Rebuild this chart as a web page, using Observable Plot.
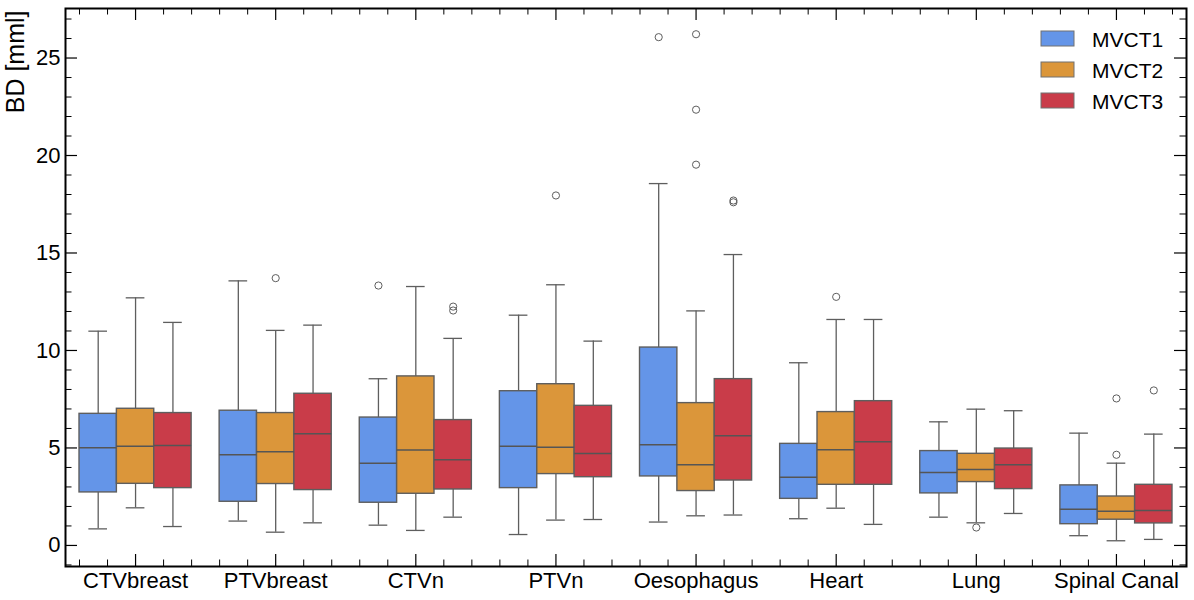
<!DOCTYPE html>
<html><head><meta charset="utf-8">
<script src="https://cdn.jsdelivr.net/npm/d3@7"></script>
<script src="https://cdn.jsdelivr.net/npm/@observablehq/plot@0.6"></script>
<style>
body{margin:0;background:#fff;font-family:"Liberation Sans",Arial,Helvetica,sans-serif}
#chart svg{display:block}
</style>
</head><body><div id="chart"></div>
<script>
const categories = ["CTVbreast","PTVbreast","CTVn","PTVn","Oesophagus","Heart","Lung","Spinal Canal"];
const series = ["MVCT1","MVCT2","MVCT3"];
const colors = ["#6495E8","#DB963A","#C93C49"];

// per series, one value per category
const whiskerLow = {
  MVCT1: [0.85,1.25,1.04,0.56,1.20,1.37,1.45,0.50],
  MVCT2: [1.93,0.68,0.77,1.30,1.52,1.91,1.16,0.24],
  MVCT3: [0.97,1.16,1.45,1.33,1.56,1.08,1.64,0.31]
};
const q1 = {
  MVCT1: [2.72,2.24,2.19,2.94,3.54,2.39,2.67,1.09],
  MVCT2: [3.16,3.15,2.65,3.66,2.79,3.11,3.25,1.32],
  MVCT3: [2.94,2.84,2.87,3.50,3.33,3.11,2.89,1.13]
};
const median = {
  MVCT1: [5.01,4.65,4.22,5.09,5.16,3.50,3.74,1.86],
  MVCT2: [5.09,4.80,4.89,5.03,4.14,4.91,3.90,1.76],
  MVCT3: [5.13,5.73,4.39,4.72,5.62,5.32,4.14,1.79]
};
const q3 = {
  MVCT1: [6.75,6.91,6.56,7.91,10.15,5.21,4.84,3.08],
  MVCT2: [7.01,6.79,8.67,8.27,7.30,6.84,4.70,2.51],
  MVCT3: [6.79,7.78,6.43,7.16,8.53,7.40,4.97,3.11]
};
const whiskerHigh = {
  MVCT1: [10.99,13.57,8.55,11.81,18.56,9.37,6.34,5.76],
  MVCT2: [12.70,11.03,13.28,13.37,12.03,11.59,6.99,4.22],
  MVCT3: [11.44,11.30,10.62,10.48,14.92,11.59,6.91,5.71]
};
const outliers = {
  MVCT1: [[],[],[13.33],[],[26.07],[],[],[]],
  MVCT2: [[],[13.71],[],[17.95],[26.22,22.35,19.53],[12.75],[0.92],[4.65,7.54]],
  MVCT3: [[],[],[12.05,12.25],[],[17.69,17.60],[],[],[7.95]]
};
const yTicks = [0,5,10,15,20,25];
const yLabel = "BD [mml]";

// build table
const boxW = 0.8 / series.length;
const boxes = [];
const outPts = [];
series.forEach((s, si) => {
  categories.forEach((c, ci) => {
    const cx = ci + (si - (series.length - 1) / 2) * boxW;
    boxes.push({s, c, cx, x1: cx - boxW/2, x2: cx + boxW/2, cap1: cx - boxW/4, cap2: cx + boxW/4,
      lo: whiskerLow[s][ci], q1: q1[s][ci], med: median[s][ci], q3: q3[s][ci], hi: whiskerHigh[s][ci]});
    outliers[s][ci].forEach(v => outPts.push({s, c, cx, v}));
  });
});

const W = 1194, H = 600;
const mL = 65, mR = 8, mT = 8, mB = 34;
const innerW = W - mL - mR, innerH = H - mT - mB;
const yMinor = d3.range(-1, 28, 1);
const xMajor = d3.range(0, categories.length);
const xMinor = d3.range(-2, categories.length * 5 - 2).map(i => i / 5);
const majorLen = 12, minorLen = 6.5;
const edge = "#5e5e5e";
const fontFam = '"Liberation Sans", Arial, Helvetica, sans-serif';

const plot = Plot.plot({
  width: W, height: H,
  marginLeft: mL, marginRight: mR, marginTop: mT, marginBottom: mB,
  style: {fontFamily: fontFam, fontSize: "22px", color: "#000", background: "#fff"},
  x: {type: "linear", domain: [-0.5, categories.length - 0.5]},
  y: {domain: [-1.08, 27.54]},
  color: {domain: series, range: colors},
  marks: [
    // whiskers
    Plot.ruleX(boxes, {x: "cx", y1: "hi", y2: "q3", stroke: edge, strokeWidth: 1.3}),
    Plot.ruleX(boxes, {x: "cx", y1: "q1", y2: "lo", stroke: edge, strokeWidth: 1.3}),
    Plot.ruleY(boxes, {y: "hi", x1: "cap1", x2: "cap2", stroke: edge, strokeWidth: 1.3}),
    Plot.ruleY(boxes, {y: "lo", x1: "cap1", x2: "cap2", stroke: edge, strokeWidth: 1.3}),
    // boxes
    Plot.rect(boxes, {x1: "x1", x2: "x2", y1: "q1", y2: "q3", fill: "s", stroke: edge, strokeWidth: 1.4}),
    Plot.ruleY(boxes, {y: "med", x1: "x1", x2: "x2", stroke: "#555", strokeWidth: 1.5}),
    // outliers
    Plot.dot(outPts, {x: "cx", y: "v", r: 3.6, stroke: edge, strokeWidth: 1, fill: "none"}),
    // inward ticks
    Plot.tickY(yTicks, {y: d => d, insetRight: innerW - majorLen, stroke: "#000", strokeWidth: 1.2}),
    Plot.tickY(yTicks, {y: d => d, insetLeft: innerW - majorLen, stroke: "#000", strokeWidth: 1.2}),
    Plot.tickY(yMinor.filter(d => d % 5 !== 0), {y: d => d, insetRight: innerW - minorLen, stroke: "#000", strokeWidth: 1}),
    Plot.tickY(yMinor.filter(d => d % 5 !== 0), {y: d => d, insetLeft: innerW - minorLen, stroke: "#000", strokeWidth: 1}),
    Plot.tickX(xMajor, {x: d => d, insetTop: innerH - majorLen, stroke: "#000", strokeWidth: 1.2}),
    Plot.tickX(xMajor, {x: d => d, insetBottom: innerH - majorLen, stroke: "#000", strokeWidth: 1.2}),
    Plot.tickX(xMinor.filter(d => Math.abs(d - Math.round(d)) > 1e-6), {x: d => d, insetTop: innerH - minorLen, stroke: "#000", strokeWidth: 1}),
    Plot.tickX(xMinor.filter(d => Math.abs(d - Math.round(d)) > 1e-6), {x: d => d, insetBottom: innerH - minorLen, stroke: "#000", strokeWidth: 1}),
    // axes labels
    Plot.axisY({ticks: yTicks, tickSize: 0, tickPadding: 5, label: null, fontSize: 22}),
    Plot.axisX({ticks: xMajor, tickFormat: i => categories[i], tickSize: 0, tickPadding: 6, label: null, fontSize: 22}),
    Plot.text([yLabel], {text: d => d, frameAnchor: "top-left", rotate: -90, textAnchor: "end", lineAnchor: "bottom", dx: -42, dy: 2, fontSize: 25, fill: "#000"}),
    Plot.frame({stroke: "#000", strokeWidth: 2})
  ]
});
document.getElementById("chart").appendChild(plot);

// legend inside the plot (upper right)
const svg = d3.select(plot);
const lg = svg.append("g").attr("font-size", 21).attr("font-family", fontFam).attr("text-anchor", "start");
series.forEach((s, i) => {
  const cy = 38.5 + i * 31;
  lg.append("rect").attr("x", 1041).attr("y", cy - 7.5).attr("width", 33).attr("height", 15)
    .attr("fill", colors[i]).attr("stroke", "#707070").attr("stroke-width", 1);
  lg.append("text").attr("x", 1092).attr("y", cy + 1).attr("dy", "0.35em").attr("fill", "#000")
    .attr("text-anchor", "start").text(s);
});
</script>
</body></html>
